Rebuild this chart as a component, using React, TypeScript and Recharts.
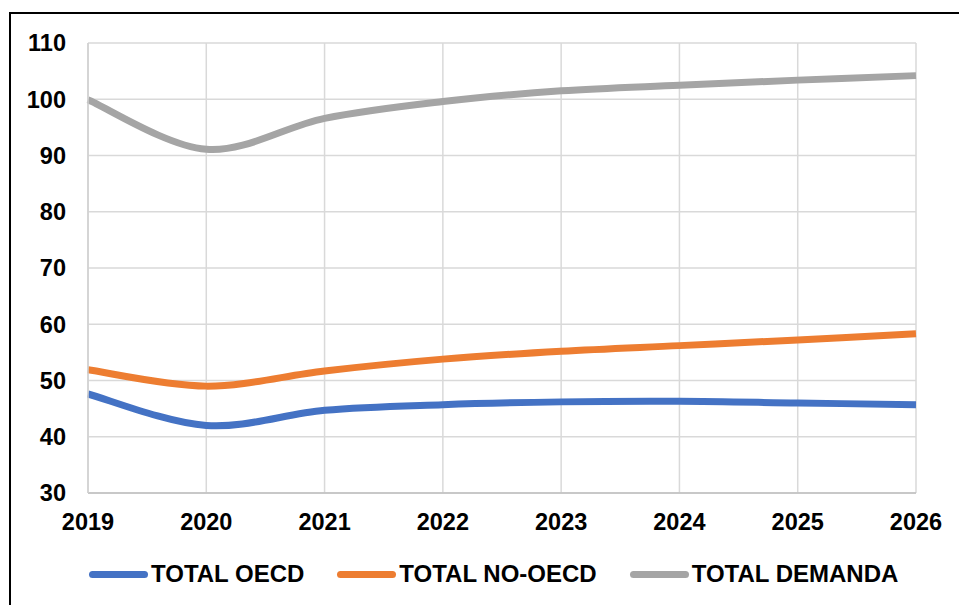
import { LineChart, Line, XAxis, YAxis, CartesianGrid } from 'recharts';

const years = ['2019', '2020', '2021', '2022', '2023', '2024', '2025', '2026'];
const totalOecd = [47.6, 42.0, 44.7, 45.7, 46.2, 46.3, 46.0, 45.7];
const totalNoOecd = [51.9, 49.0, 51.7, 53.8, 55.2, 56.2, 57.2, 58.3];
const totalDemanda = [99.9, 91.1, 96.6, 99.6, 101.5, 102.5, 103.4, 104.2];
const yTicks = [30, 40, 50, 60, 70, 80, 90, 100, 110];

const series = [
  { key: 'oecd', name: 'TOTAL OECD', color: '#4472C4', values: totalOecd },
  { key: 'noOecd', name: 'TOTAL NO-OECD', color: '#ED7D31', values: totalNoOecd },
  { key: 'demanda', name: 'TOTAL DEMANDA', color: '#A5A5A5', values: totalDemanda },
];

const data = years.map((year, i) => {
  const row: Record<string, string | number> = { year };
  series.forEach((s) => (row[s.key] = s.values[i]));
  return row;
});

const FONT = '"Liberation Sans", Arial, sans-serif';

// Catmull-Rom style smoothing (same feel as spreadsheet "smoothed line")
function smoothCurve(context: any) {
  let pts: [number, number][] = [];
  return {
    areaStart() {},
    areaEnd() {},
    lineStart() {
      pts = [];
    },
    lineEnd() {
      if (!pts.length) return;
      context.moveTo(pts[0][0], pts[0][1]);
      for (let i = 0; i < pts.length - 1; i++) {
        const p0 = pts[Math.max(i - 1, 0)];
        const p1 = pts[i];
        const p2 = pts[i + 1];
        const p3 = pts[Math.min(i + 2, pts.length - 1)];
        context.bezierCurveTo(
          p1[0] + (p2[0] - p0[0]) / 6,
          p1[1] + (p2[1] - p0[1]) / 6,
          p2[0] - (p3[0] - p1[0]) / 6,
          p2[1] - (p3[1] - p1[1]) / 6,
          p2[0],
          p2[1]
        );
      }
    },
    point(x: number, y: number) {
      pts.push([+x, +y]);
    },
  };
}

const tickStyle = { fill: '#000', fontSize: 23.5, fontWeight: 700, fontFamily: FONT };

export default function App() {
  return (
    <div style={{ position: 'fixed', left: 0, top: 0, width: 959, height: 605, background: '#fff', overflow: 'hidden' }}>
      <div
        style={{
          position: 'absolute',
          left: 9,
          top: 12,
          width: 960,
          height: 600,
          borderTop: '2px solid #000',
          borderLeft: '2px solid #000',
        }}
      />
      <div style={{ position: 'absolute', left: 0, top: 0 }}>
        <LineChart width={959} height={605} data={data} margin={{ top: 43, right: 43, bottom: 82, left: 0 }}>
          <CartesianGrid stroke="#d9d9d9" strokeWidth={1.5} />
          <XAxis
            dataKey="year"
            height={30}
            tick={tickStyle}
            tickLine={false}
            tickMargin={14}
            axisLine={{ stroke: '#bfbfbf', strokeWidth: 1.5 }}
            interval={0}
          />
          <YAxis
            width={88}
            domain={[30, 110]}
            ticks={yTicks}
            tick={tickStyle}
            tickLine={false}
            tickMargin={16}
            axisLine={{ stroke: '#d0d0d0', strokeWidth: 1.5 }}
          />
          {series.map((s) => (
            <Line
              key={s.key}
              dataKey={s.key}
              name={s.name}
              stroke={s.color}
              strokeWidth={7}
              type={smoothCurve as any}
              dot={false}
              activeDot={false}
              isAnimationActive={false}
            />
          ))}
        </LineChart>
      </div>
      <div
        style={{
          position: 'absolute',
          left: 89,
          top: 560,
          display: 'flex',
          alignItems: 'center',
          gap: 33,
          fontFamily: FONT,
          fontWeight: 700,
          fontSize: 24,
          lineHeight: '28px',
          color: '#000',
          whiteSpace: 'nowrap',
        }}
      >
        {series.map((s) => (
          <div key={s.key} style={{ display: 'flex', alignItems: 'center' }}>
            <span
              style={{ display: 'inline-block', width: 59, height: 7, borderRadius: 4, background: s.color, marginRight: 3 }}
            />
            <span>{s.name}</span>
          </div>
        ))}
      </div>
    </div>
  );
}
